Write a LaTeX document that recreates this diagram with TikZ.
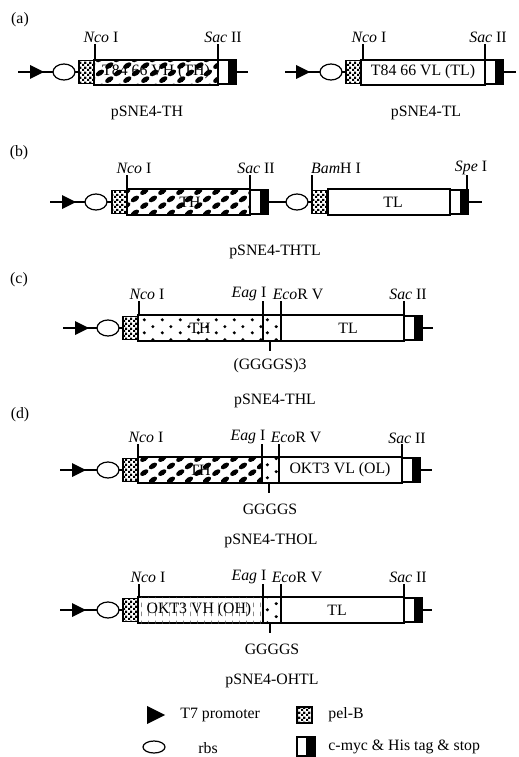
\documentclass[tikz,border=0pt]{standalone}
\usepackage{fontspec}
\setmainfont{Liberation Serif}
\usetikzlibrary{patterns}
\pgfdeclarepatternformonly{blobs}{\pgfpointorigin}{\pgfqpoint{10pt}{8pt}}{\pgfqpoint{10pt}{8pt}}{%
  \pgfpathellipse{\pgfqpoint{2.5pt}{2pt}}{\pgfqpoint{2.3pt}{1.5pt}}{\pgfqpoint{-0.8pt}{1.3pt}}%
  \pgfpathellipse{\pgfqpoint{7.5pt}{6pt}}{\pgfqpoint{2.3pt}{1.5pt}}{\pgfqpoint{-0.8pt}{1.3pt}}%
  \pgfusepath{fill}}
\pgfdeclarepatternformonly{sparsedots}{\pgfpointorigin}{\pgfqpoint{10pt}{7.5pt}}{\pgfqpoint{10pt}{7.5pt}}{%
  \pgfpathcircle{\pgfqpoint{2.5pt}{1.9pt}}{1pt}\pgfpathcircle{\pgfqpoint{7.5pt}{5.6pt}}{1pt}\pgfusepath{fill}}
\pgfdeclarepatternformonly{vdashes}{\pgfpointorigin}{\pgfqpoint{4pt}{5pt}}{\pgfqpoint{4pt}{5pt}}{%
  \pgfsetlinewidth{0.3pt}\pgfpathmoveto{\pgfqpoint{1pt}{0.5pt}}\pgfpathlineto{\pgfqpoint{1pt}{3pt}}\pgfusepath{stroke}}
\pgfdeclarepatternformonly{pelgrid}{\pgfpointorigin}{\pgfqpoint{2.6pt}{2.6pt}}{\pgfqpoint{2.6pt}{2.6pt}}{%
  \pgfpathrectangle{\pgfpointorigin}{\pgfqpoint{1.3pt}{1.3pt}}%
  \pgfpathrectangle{\pgfqpoint{1.3pt}{1.3pt}}{\pgfqpoint{1.3pt}{1.3pt}}\pgfusepath{fill}}
\begin{document}
\begin{tikzpicture}[x=0.02cm, y=-0.02cm, font=\fontsize{9}{10}\selectfont, line width=0.7pt,
  t7/.pic={\fill (0,-7) -- (14,0) -- (0,7) -- cycle;},
  rbs/.pic={\draw[fill=white] (0,0) ellipse (11 and 8);},
  pelb/.pic={\fill[white] (0,-11.5) rectangle (15,11.5); \draw[pattern=pelgrid] (0,-11.5) rectangle (15,11.5);},
  tag/.pic={\draw[fill=white] (0,-12) rectangle (18,12); \fill (10,-12) rectangle (18,12);},
  th/.style={draw, fill=white, postaction={pattern=blobs}},
  thdots/.style={draw, fill=white, postaction={pattern=sparsedots}},
  oh/.style={draw, fill=white, postaction={pattern=vdashes, pattern color=black!70}},
  vl/.style={draw, fill=white},
  site/.style={inner sep=1pt}, backbone/.style={line width=1.2pt}]
\useasboundingbox (0,0) rectangle (518,757);
% (a)
\node (la) at (20,20) {(a)};
\draw[backbone] (18,72) -- (248,72);
\pic at (30,72) {t7};\pic at (64,72) {rbs};\pic at (79,72) {pelb};
\path[th] (94,60) rectangle (218,85);\pic at (218,72) {tag};
\node (thA) at (156,72) {T84 66 VH (TH)};
\draw (95,60) -- (95,44);\node[site] (ncoA) at (101,37) {\textit{Nco} I};
\draw (218,60) -- (218,44);\node[site] (sacA) at (223,37) {\textit{Sac} II};
\node (pTH) at (147,113) {pSNE4-TH};
\draw[backbone] (285,72) -- (516,72);
\pic at (296,72) {t7};\pic at (331,72) {rbs};\pic at (346,72) {pelb};
\path[vl] (361,60) rectangle (485,85);\pic at (485,72) {tag};
\node (tlA) at (423,72) {T84 66 VL (TL)};
\draw (363,60) -- (363,44);\node[site] (ncoB) at (369,37) {\textit{Nco} I};
\draw (485,60) -- (485,44);\node[site] (sacB) at (488,37) {\textit{Sac} II};
\node (pTL) at (426,113) {pSNE4-TL};
% (b)
\node (lb) at (19,153) {(b)};
\draw[backbone] (50,202) -- (482,202);
\pic at (62,202) {t7};\pic at (96,202) {rbs};\pic at (112,202) {pelb};
\path[th] (127,189) rectangle (250,215);\pic at (250,202) {tag};
\node (thB) at (190,202) {TH};
\pic at (297,202) {rbs};\pic at (312,202) {pelb};
\path[vl] (328,189) rectangle (450,215);\pic at (450,202) {tag};
\node (tlB) at (393,202) {TL};
\draw (127,189) -- (127,175);\node[site] (ncoC) at (134,168) {\textit{Nco} I};
\draw (250,189) -- (250,175);\node[site] (sacC) at (256,168) {\textit{Sac} II};
\draw (312,190) -- (312,175);\node[site] (bamC) at (336,168) {\textit{Bam}H I};
\draw (467,190) -- (467,175);\node[site] (speC) at (471,168) {\textit{Spe} I};
\node (pTHTL) at (275,252) {pSNE4-THTL};
% (c)
\node (lc) at (19,280) {(c)};
\draw[backbone] (63,328) -- (433,328);
\pic at (75,328) {t7};\pic at (108,328) {rbs};\pic at (123,328) {pelb};
\path[thdots] (138,315) rectangle (263,341);\path[thdots] (263,315) rectangle (281,341);
\path[vl] (281,315) rectangle (404,341);\pic at (404,328) {tag};
\node (thC) at (200,328) {TH};\node (tlC) at (348,328) {TL};
\draw (139,315) -- (139,301);\node[site] (ncoD) at (147,294) {\textit{Nco} I};
\draw (263,315) -- (263,301);\node[site] (eagD) at (249,294) {\textit{Eag} I};
\draw (281,315) -- (281,301);\node[site] (ecoD) at (298,294) {\textit{Eco}R V};
\draw (404,315) -- (404,301);\node[site] (sacD) at (408,294) {\textit{Sac} II};
\draw (270,341) -- (270,351);\node (lnkC) at (270,366) {(GGGGS)3};
\node (pTHL) at (275,401) {pSNE4-THL};
% (d)
\node (ld) at (20,415) {(d)};
\draw[backbone] (60,470) -- (432,470);
\pic at (72,470) {t7};\pic at (108,470) {rbs};\pic at (123,470) {pelb};
\path[th] (138,457) rectangle (262,483);\path[thdots] (262,457) rectangle (279,483);
\path[vl] (279,457) rectangle (402,483);\pic at (402,470) {tag};
\node (thD) at (200,470) {TH};\node (olD) at (340,470) {OKT3 VL (OL)};
\draw (138,457) -- (138,444);\node[site] (ncoE) at (146,437) {\textit{Nco} I};
\draw (262,457) -- (262,444);\node[site] (eagE) at (248,437) {\textit{Eag} I};
\draw (279,457) -- (279,444);\node[site] (ecoE) at (296,437) {\textit{Eco}R V};
\draw (402,457) -- (402,444);\node[site] (sacE) at (407,438) {\textit{Sac} II};
\draw (269,483) -- (269,493);\node (lnkD) at (270,509) {GGGGS};
\node (pTHOL) at (271,541) {pSNE4-THOL};
\draw[backbone] (60,610) -- (432,610);
\pic at (72,610) {t7};\pic at (108,610) {rbs};\pic at (123,610) {pelb};
\path[oh] (138,597) rectangle (263,623);\path[thdots] (263,597) rectangle (281,623);
\path[vl] (281,597) rectangle (404,623);\pic at (404,610) {tag};
\node (ohE) at (199,610) {OKT3 VH (OH)};\node (tlE) at (337,610) {TL};
\draw (139,597) -- (139,584);\node[site] (ncoF) at (148,577) {\textit{Nco} I};
\draw (263,597) -- (263,584);\node[site] (eagF) at (249,577) {\textit{Eag} I};
\draw (281,597) -- (281,584);\node[site] (ecoF) at (297,577) {\textit{Eco}R V};
\draw (404,597) -- (404,584);\node[site] (sacF) at (408,577) {\textit{Sac} II};
\draw (270,623) -- (270,633);\node (lnkE) at (272,649) {GGGGS};
\node (pOHTL) at (272,681) {pSNE4-OHTL};
% legend
\pic[scale=1.3] at (147,715) {t7};\node[anchor=west] (kT7) at (174,715) {T7 promoter};
\draw[fill=white] (154,747) ellipse (11 and 6);\node (kRbs) at (208,748) {rbs};
\draw[pattern=pelgrid] (297,707) rectangle (312,723);\node[anchor=west] (kPel) at (322,715) {pel-B};
\draw[fill=white] (297,737) rectangle (315,756);\fill (306,737) rectangle (315,756);
\node[anchor=west] (kTag) at (322,747) {c-myc \& His tag \& stop};
\end{tikzpicture}
\end{document}
